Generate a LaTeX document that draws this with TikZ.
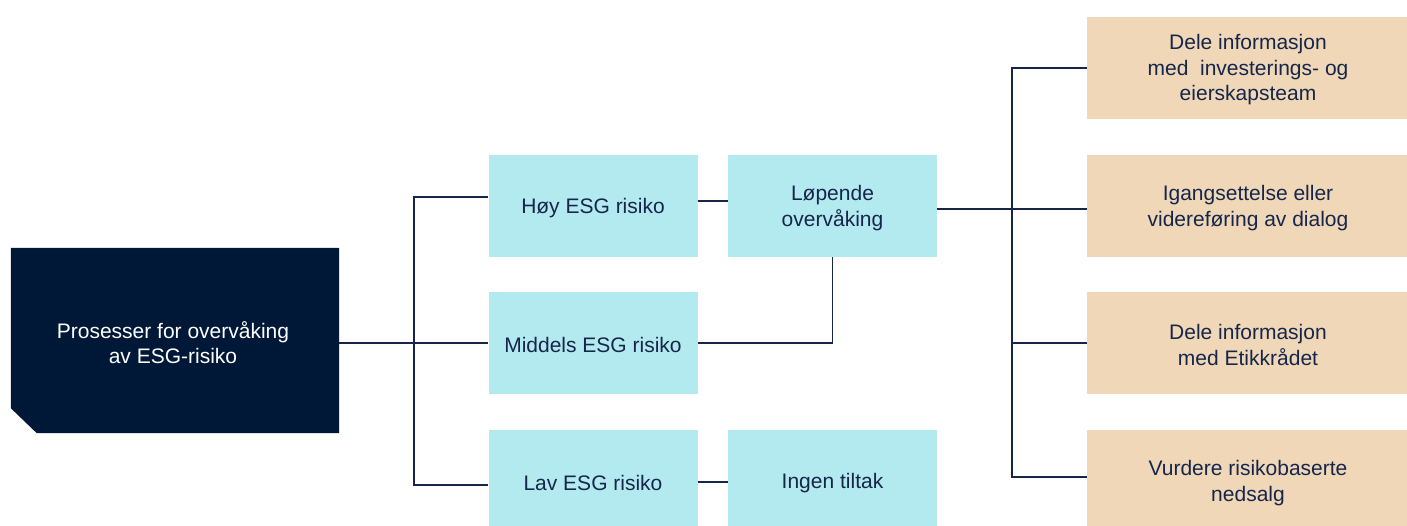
\documentclass[tikz,border=0pt]{standalone}
\usepackage{fontspec}
\setmainfont{Liberation Sans}
\definecolor{navy}{HTML}{001838}
\definecolor{linec}{HTML}{16264A}
\definecolor{cyanbox}{HTML}{B3EAEF}
\definecolor{tanbox}{HTML}{EFD7B8}
\begin{document}
\begin{tikzpicture}[x=1pt,y=-1pt,
  txt/.style={font=\fontsize{21}{25.5}\selectfont, align=center, text=linec},
  cbox/.style={rectangle, fill=cyanbox, minimum width=209pt, minimum height=102pt, inner sep=0pt},
  tbox/.style={rectangle, fill=tanbox, minimum width=322pt, minimum height=102pt, inner sep=0pt},
  conn/.style={draw=linec, line width=1.8pt}]
\clip (0,0) rectangle (1407,525);
\fill[white] (0,0) rectangle (1407,525);
% root
\node[rectangle, minimum width=328pt, minimum height=185pt, inner sep=0pt] (root) at (175,340.5) {};
\fill[navy] (root.north west) -- (root.north east) -- (root.south east) -- ([xshift=26pt]root.south west) -- ([yshift=25pt]root.south west) -- cycle;
\node[txt, text=white] (roottxt) at (173,342.5) {Prosesser for overvåking\\av ESG-risiko};
% middle boxes
\node[cbox] (hoy) at (593,206) {};
\node[cbox] (mid) at (593,343) {};
\node[cbox] (lav) at (593,481) {};
\node[cbox] (lop) at (832.5,206) {};
\node[cbox] (ing) at (832.5,481) {};
\node[txt] (hoyt) at ([yshift=-2pt]hoy.center) {Høy ESG risiko};
\node[txt] (midt) at ([yshift=-2pt]mid.center) {Middels ESG risiko};
\node[txt] (lavt) at ([yshift=-2pt]lav.center) {Lav ESG risiko};
\node[txt] (lopt) at ([yshift=-2pt]lop.center) {Løpende\\overvåking};
\node[txt] (ingt) at ([yshift=-2pt]ing.center) {Ingen tiltak};
% right boxes
\node[tbox] (t1) at (1248,68) {};
\node[tbox] (t2) at (1248,206) {};
\node[tbox] (t3) at (1248,343) {};
\node[tbox] (t4) at (1248,481) {};
\node[txt] (t1t) at ([yshift=-2pt]t1.center) {Dele informasjon\\med\ \ investerings- og\\eierskapsteam};
\node[txt] (t2t) at ([yshift=-2pt]t2.center) {Igangsettelse eller\\videreføring av dialog};
\node[txt] (t3t) at ([yshift=-2pt]t3.center) {Dele informasjon\\med Etikkrådet};
\node[txt] (t4t) at ([yshift=-2pt]t4.center) {Vurdere risikobaserte\\nedsalg};
% junctions
\coordinate (jl) at (414,343);
\coordinate (jr) at (1012,209);
% connectors
\draw[conn] (mid.west) -- (mid.west -| root.east);
\draw[conn] ([yshift=9pt]hoy.west) -| ([yshift=-4pt]lav.west -| jl) -- ([yshift=-4pt]lav.west);
\draw[conn] ([yshift=5pt]hoy.east) -- ([yshift=5pt]lop.west);
\draw[conn] (mid.east) -| (lop.south);
\draw[conn] ([yshift=-1pt]lav.east) -- ([yshift=-1pt]ing.west);
\draw[conn] ([yshift=-3pt]lop.east) -- ([yshift=-3pt]t2.west);
\draw[conn] (t1.west) -| ([yshift=4pt]t4.west -| jr) -- ([yshift=4pt]t4.west);
\draw[conn] (t3.west) -- (t3.west -| jr);
\end{tikzpicture}
\end{document}
